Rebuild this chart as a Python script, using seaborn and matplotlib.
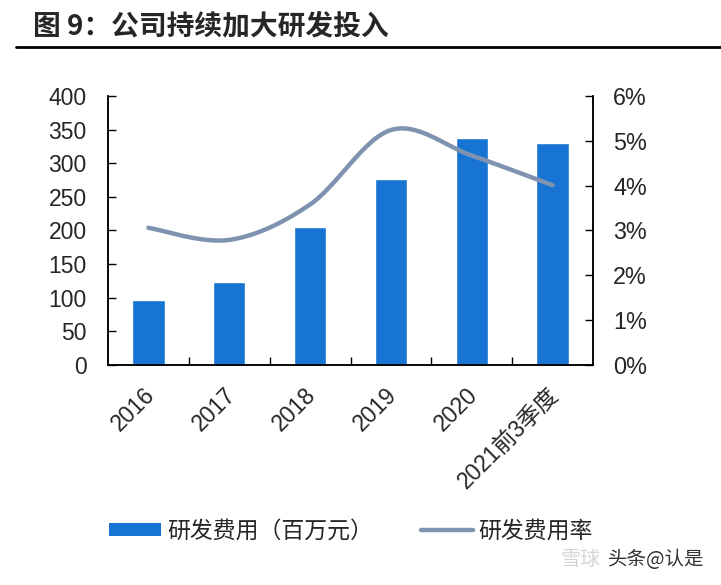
import numpy as np
import matplotlib
matplotlib.use('Agg')
import matplotlib.pyplot as plt
import seaborn as sns
from matplotlib.lines import Line2D
from matplotlib.patches import Patch
from matplotlib.ticker import FuncFormatter, MultipleLocator
from matplotlib.transforms import ScaledTranslation

# data
years = ['2016', '2017', '2018', '2019', '2020', '2021前3季度']
rd_expense = [97, 123, 205, 277, 338, 330]          # 研发费用（百万元）
rd_ratio = [3.06, 2.79, 3.58, 5.24, 4.67, 4.01]     # 研发费用率 (%)

bar_color = '#1874D2'
line_color = '#7F93B0'


def smooth_curve(y, steps=30):
    # Excel-style smoothed line (Catmull-Rom through the points)
    y = np.asarray(y, dtype=float)
    x = np.arange(len(y), dtype=float)
    xp = np.concatenate([[x[0]], x, [x[-1]]])
    yp = np.concatenate([[y[0]], y, [y[-1]]])
    xs, ys = [], []
    t = np.linspace(0, 1, steps)
    for i in range(len(y) - 1):
        p0, p1, p2, p3 = i, i + 1, i + 2, i + 3
        for arr, out in ((xp, xs), (yp, ys)):
            c1 = arr[p1] + (arr[p2] - arr[p0]) / 6
            c2 = arr[p2] - (arr[p3] - arr[p1]) / 6
            seg = ((1 - t) ** 3 * arr[p1] + 3 * (1 - t) ** 2 * t * c1
                   + 3 * (1 - t) * t ** 2 * c2 + t ** 3 * arr[p2])
            out.extend(seg if i == 0 else seg[1:])
    return np.array(xs), np.array(ys)


sns.set_style('ticks')
plt.rcParams['font.family'] = ['Liberation Sans', 'Noto Sans CJK SC', 'DejaVu Sans']

fig = plt.figure(figsize=(7.21, 5.85), dpi=100)
ax = fig.add_axes([0.1498, 0.376, 0.6727, 0.460])

sns.barplot(x=years, y=rd_expense, color=bar_color, width=0.4,
            saturation=1, ax=ax)
ax.set_xlim(-0.5, 5.5)
ax.set_ylim(0, 400)
ax.yaxis.set_major_locator(MultipleLocator(50))
ax.set_xlabel('')
ax.set_ylabel('')

ax2 = ax.twinx()
sx, sy = smooth_curve(rd_ratio)
sns.lineplot(x=sx, y=sy, sort=False, color=line_color, linewidth=3.2, ax=ax2)
ax2.set_ylim(0, 6)
ax2.yaxis.set_major_locator(MultipleLocator(1))
ax2.yaxis.set_major_formatter(FuncFormatter(lambda v, p: '{:.0f}%'.format(v)))
ax2.set_xlim(-0.5, 5.5)

# x ticks sit between categories
ax.set_xticks(np.arange(6))
ax.set_xticks(np.arange(0.5, 5.5, 1), minor=True)
ax.tick_params(axis='x', which='major', length=0, pad=13)
ax.tick_params(axis='x', which='minor', length=6, width=1, direction='in', color='black')
ax.set_xticklabels(years, rotation=45, ha='right', rotation_mode='anchor', fontsize=16.5)
shift = ScaledTranslation(-4 / 72, 0, fig.dpi_scale_trans)
for lab in ax.get_xticklabels():
    lab.set_transform(lab.get_transform() + shift)
ax.tick_params(axis='y', length=6, width=1, direction='in', labelsize=16.5, pad=15.3, color='black')
ax2.tick_params(axis='y', length=6, width=1, direction='in', labelsize=16.8, pad=14.6, color='black')

for a in (ax, ax2):
    a.spines['top'].set_visible(False)
    for s in ('left', 'right', 'bottom'):
        a.spines[s].set_color('black')
        a.spines[s].set_linewidth(1.1)

# title and rule
fig.text(0.046, 0.955, '图 9：公司持续加大研发投入', fontsize=20, fontweight='bold',
         va='center', ha='left', family=['Noto Sans CJK SC', 'DejaVu Sans'])
fig.add_artist(Line2D([0.022, 1.0], [0.920, 0.920], transform=fig.transFigure,
                      color='black', linewidth=2.0))

handles = [Patch(facecolor=bar_color, edgecolor='none'),
           Line2D([0], [0], color=line_color, linewidth=3.2)]
labels = ['研发费用（百万元）', '研发费用率']
fig.legend(handles, labels, loc='center', bbox_to_anchor=(0.487, 0.092), ncol=2,
           frameon=False, handlelength=2.26, handleheight=0.52,
           handletextpad=0.26, columnspacing=2.1,
           prop={'family': ['Noto Sans CJK SC'], 'size': 16.5})

# watermark
fig.text(0.777, 0.043, '雪球', fontsize=14.4, color='#d5d5d5', ha='left', va='center',
         family=['Noto Sans CJK SC'])
fig.text(0.843, 0.043, '头条@认是', fontsize=14, color='#333333', ha='left', va='center',
         family=['Noto Sans CJK SC'])

fig.savefig('out.png', dpi=100)
